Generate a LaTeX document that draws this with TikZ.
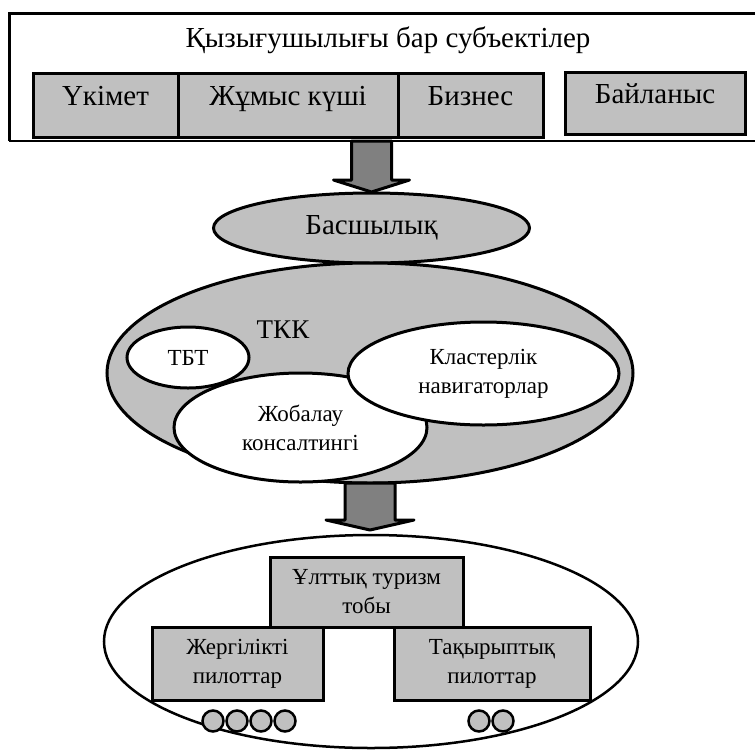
\documentclass[tikz,border=0pt]{standalone}
\usepackage{fontspec}
\setmainfont{Liberation Serif}
\usetikzlibrary{shapes.geometric}
\definecolor{boxgray}{HTML}{C0C0C0}
\definecolor{arrowgray}{HTML}{808080}

\begin{document}
\begin{tikzpicture}[x=1pt,y=-1pt,
  every node/.style={inner sep=0pt, outer sep=0pt},
  bigtext/.style={font=\fontsize{29}{34}\selectfont},
  midtext/.style={font=\fontsize{27}{32}\selectfont},
  smalltext/.style={font=\fontsize{23}{29}\selectfont, align=center},
  graybox/.style={draw, line width=3pt, fill=boxgray, rectangle},
  topbox/.style={graybox, bigtext, anchor=north west, minimum height=64pt,
    text height=10pt, text depth=10pt},
  oval/.style={draw, ellipse, line width=3pt},
  blockarrow/.style={draw, line width=3pt, fill=arrowgray, line join=round},
  disc/.style={draw, circle, line width=2.5pt, fill=boxgray, minimum size=21pt}
]
\useasboundingbox (0,0) rectangle (755,750);
\fill[white] (0,0) rectangle (755,750);

% --- stakeholders frame (open to the right) ---
\coordinate (frameNW) at (9,13);
\coordinate (frameSW) at (9,141);
\draw[line width=3pt] (755,13) -- (frameNW) -- (frameSW);
\draw[line width=1.5pt] (frameSW) -- (755,141);
\node[bigtext] (title) at (388,40) {Қызығушылығы бар субъектілер};

\node[topbox, minimum width=145pt] (gov) at (33,73) {Үкімет};
\node[topbox, minimum width=220pt] (work) at (178,73) {Жұмыс күші};
\node[topbox, minimum width=145pt] (biz) at (398,73) {Бизнес};
\node[topbox, minimum width=180pt, minimum height=62pt] (comm) at (565,72) {Байланыс};

% --- leadership ---
\node[oval, fill=boxgray, bigtext, minimum width=316pt, minimum height=70pt] (lead) at (371.5,228) {Басшылық};

% --- TKK with its members ---
\node[oval, fill=boxgray, minimum width=526pt, minimum height=220pt] (tkk) at (370,373) {};
\node[midtext] (tkklabel) at (283,330) {ТКК};
\node[oval, fill=white, smalltext, minimum width=253pt, minimum height=109pt] (design) at (300.5,427.5) {Жобалау\\консалтингі};
\node[oval, fill=white, font=\fontsize{23}{28}\selectfont, minimum width=122pt, minimum height=61pt] (tbt) at (188,357.5) {ТБТ};
\node[oval, fill=white, smalltext, minimum width=271pt, minimum height=103pt] (nav) at (483.5,373.5) {Кластерлік\\навигаторлар};

% --- national tourism group ---
\node[oval, line width=2.5pt, fill=white, minimum width=534pt, minimum height=213pt] (group) at (371,641.5) {};
\node[graybox, smalltext, anchor=north west, minimum width=193pt, minimum height=70pt] (nat) at (270,557) {Ұлттық туризм\\тобы};
\node[graybox, smalltext, anchor=north west, minimum width=171pt, minimum height=73pt] (local) at (152,627) {Жергілікті\\пилоттар};
\node[graybox, smalltext, anchor=north west, minimum width=196pt, minimum height=73pt] (theme) at (394,627) {Тақырыптық\\пилоттар};

\node[disc] (l1) at (213,721) {};
\node[disc] (l2) at (237,721) {};
\node[disc] (l3) at (261,721) {};
\node[disc] (l4) at (285,721) {};
\node[disc] (t1) at (479,721) {};
\node[disc] (t2) at (503,721) {};

% --- block arrows ---
\draw[blockarrow] (lead.north |- frameSW) ++(-20,0) -- ++(40,0) -- ++(0,39) -- ++(18,0)
  -- ++(-38,12) -- ++(-38,-12) -- ++(18,0) -- cycle;
\draw[blockarrow] (tkk.south) ++(-25,0) -- ++(50,0) -- ++(0,37) -- ++(19,0)
  -- ++(-44,10) -- ++(-44,-10) -- ++(19,0) -- cycle;
\end{tikzpicture}
\end{document}
